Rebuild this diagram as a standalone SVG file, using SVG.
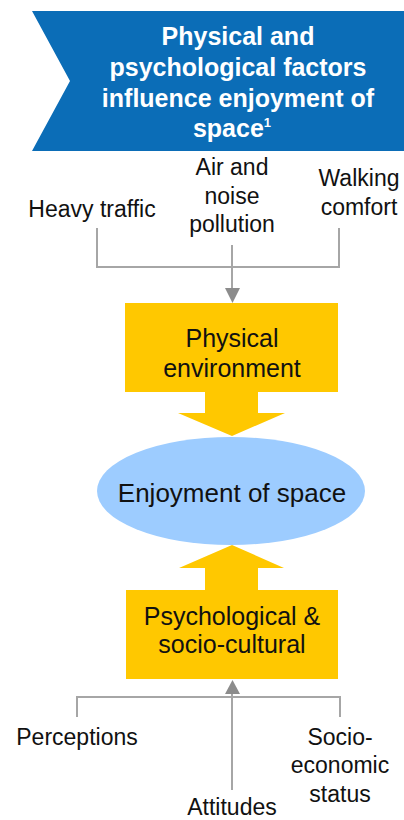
<svg xmlns="http://www.w3.org/2000/svg" width="404" height="820" viewBox="0 0 404 820">
<style>
.t{font-family:"Liberation Sans",Arial,sans-serif;fill:#111;text-anchor:middle}
.lab{font-size:23px}
.box{font-size:25px}
.ttl{font-family:"Liberation Sans",Arial,sans-serif;font-weight:bold;font-size:25px;fill:#fff;text-anchor:middle}
.ln{stroke:#A6A6A6;stroke-width:2;fill:none}
.ah{fill:#8C8C8C}
.yel{fill:#FFC800}
</style>
<rect width="404" height="820" fill="#fff"/>
<g id="title">
<path d="M32,11 L404,11 L404,151 L32,151 L70,81 Z" fill="#0B6DB7"/>
<text class="ttl" x="238" y="45">Physical and</text>
<text class="ttl" x="238" y="76">psychological factors</text>
<text class="ttl" x="238" y="107">influence enjoyment of</text>
<text class="ttl" x="232" y="137">space<tspan font-size="13" dy="-10">1</tspan></text>
</g>
<g id="connectors">
<path class="ln" d="M97,228 V267 H339 V228"/>
<path class="ln" d="M232,245 V290"/>
<path class="ah" d="M225,288 H240 L232.5,303 Z"/>
<path class="ln" d="M77,717 V697 H340 V717"/>
<path class="ln" d="M232,790 V692"/>
<path class="ah" d="M225,694 H240 L232.5,680 Z"/>
</g>
<g id="heavy-traffic"><text class="t lab" x="92" y="217">Heavy traffic</text></g>
<g id="air-noise"><text class="t lab" x="232" y="175">Air and</text><text class="t lab" x="232" y="204">noise</text><text class="t lab" x="232" y="232">pollution</text></g>
<g id="walking-comfort"><text class="t lab" x="359" y="186">Walking</text><text class="t lab" x="359" y="215">comfort</text></g>
<g id="physical-environment">
<path class="yel" d="M125,303 H338 V392 H258 V413 H285 L232,436 L178,413 H205 V392 H125 Z"/>
<text class="t box" x="232" y="347">Physical</text>
<text class="t box" x="232" y="377">environment</text>
</g>
<g id="enjoyment">
<ellipse cx="231" cy="491" rx="134" ry="54" fill="#9DCCFF"/>
<text class="t" x="232" y="502" font-size="26">Enjoyment of space</text>
</g>
<g id="psychological">
<path class="yel" d="M126,679 H338 V590 H258 V568 H284 L232,545 L179,568 H205 V590 H126 Z"/>
<text class="t box" x="232" y="625">Psychological &amp;</text>
<text class="t box" x="232" y="653">socio-cultural</text>
</g>
<g id="perceptions"><text class="t lab" x="77" y="745">Perceptions</text></g>
<g id="socio-economic"><text class="t lab" x="340" y="745">Socio-</text><text class="t lab" x="340" y="773">economic</text><text class="t lab" x="340" y="802">status</text></g>
<g id="attitudes"><text class="t lab" x="232" y="815">Attitudes</text></g>
</svg>
